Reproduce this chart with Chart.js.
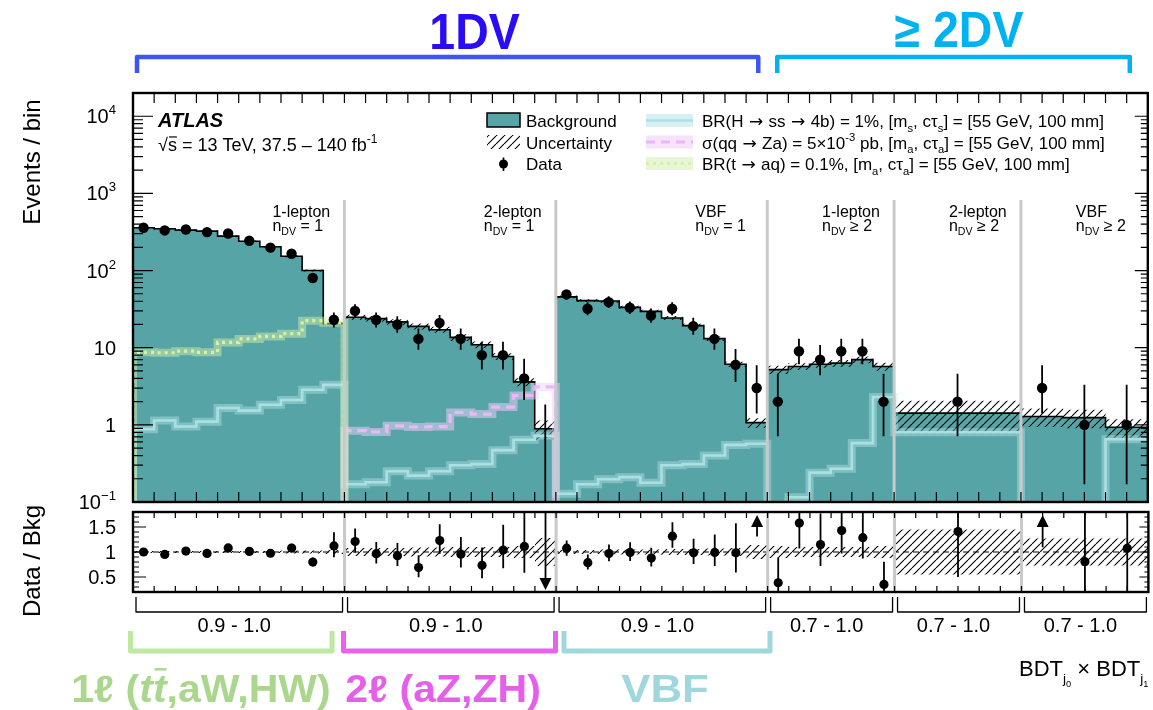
<!DOCTYPE html>
<html lang="en">
<head>
<meta charset="utf-8">
<title>Displaced-vertex search: event yields per BDT bin</title>
<script src="https://cdn.jsdelivr.net/npm/chart.js@4.4.1/dist/chart.umd.min.js"></script>
<style>
  html, body { margin: 0; padding: 0; background: #fff; }
  #wrap { position: relative; width: 1153px; height: 710px; overflow: hidden; background: #fff; }
  #wrap canvas { position: absolute; left: 0; top: 0; }
</style>
</head>
<body>
<div id="wrap">
  <canvas id="mainCanvas" width="1153" height="710"></canvas>
  <canvas id="ratioCanvas" width="1153" height="710"></canvas>
</div>
<script>
// ---------------------------------------------------------------------------
// Bin layout: 48 BDT-bin units, 40 bins spread over six analysis regions
// ---------------------------------------------------------------------------
const binEdges = [0, 1, 2, 3, 4, 5, 6, 7, 8, 9, 10, 11, 12, 13, 14, 15, 16, 17, 18, 19,
                  20, 21, 22, 23, 24, 25, 26, 27, 28, 29, 30, 31, 32, 33, 34, 35, 36, 42, 44, 46, 48];

const regionEdges    = [0, 10, 20, 30, 36, 42, 48];
const regionChannel  = ['1-lepton', '2-lepton', 'VBF', '1-lepton', '2-lepton', 'VBF'];
const regionNdv      = ['= 1', '= 1', '= 1', '≥ 2', '≥ 2', '≥ 2'];
const regionBdtRange = ['0.9 - 1.0', '0.9 - 1.0', '0.9 - 1.0', '0.7 - 1.0', '0.7 - 1.0', '0.7 - 1.0'];

// Expected background per bin and its relative uncertainty
const bkgYield = [359, 348, 334, 324, 279, 240, 203, 153, 100, 20.5,
                  24.8, 23.8, 21.6, 18.9, 17.1, 13.6, 10.9, 7.7, 3.6, 0.89,
                  45.5, 40.7, 40.3, 33.3, 29.6, 24.3, 19.3, 13.1, 6.1, 1.07,
                  5.2, 5.7, 6.1, 6.3, 7.0, 5.7,
                  1.42,
                  1.28, 1.24, 0.93];
const bkgRelUnc = [0.02, 0.02, 0.02, 0.02, 0.02, 0.02, 0.02, 0.03, 0.03, 0.04,
                   0.08, 0.08, 0.08, 0.09, 0.09, 0.10, 0.10, 0.10, 0.12, 0.28,
                   0.04, 0.04, 0.05, 0.05, 0.05, 0.06, 0.06, 0.07, 0.08, 0.14,
                   0.12, 0.10, 0.10, 0.10, 0.10, 0.12,
                   0.45,
                   0.27, 0.27, 0.27];

// Observed events and their 68% interval edges
const dataCounts = [359, 331, 340, 315, 302, 243, 198, 165, 80, 23,
                    30, 23, 20, 13, 21, 13, 8, 8, 4, 0,
                    49, 32, 39, 33, 26, 32, 19, 13, 6, 3,
                    2, 9, 7, 9, 9, 2,
                    2,
                    3, 1, 1];
const dataErrLow = [340, 313, 322, 297, 285, 227, 184, 152, 71, 18.3,
                    24.5, 18.3, 15.6, 9.4, 16.5, 9.4, 5.2, 5.2, 2.1, 0,
                    42.0, 26.4, 32.8, 27.3, 21.0, 26.4, 14.7, 9.4, 3.6, 1.4,
                    0.71, 6.1, 4.4, 6.1, 6.1, 0.71,
                    0.71,
                    1.4, 0.17, 0.17];
const dataErrHigh = [378, 349, 358, 333, 320, 259, 212, 178, 89, 28.6,
                     36.5, 28.6, 25.5, 17.7, 26.6, 17.7, 11.9, 11.9, 7.2, 1.84,
                     56.0, 38.7, 46.3, 39.8, 32.1, 38.7, 24.4, 17.7, 9.6, 5.9,
                     4.6, 13.1, 10.8, 13.1, 13.1, 4.6,
                     4.6,
                     5.9, 3.3, 3.3];

// Signal benchmarks
const sigHss = [0.88, 1.14, 0.95, 1.10, 1.65, 1.53, 1.82, 2.1, 2.85, 3.3,
                0.17, 0.18, 0.25, 0.22, 0.25, 0.30, 0.31, 0.47, 0.64, 0.72,
                0.128, 0.17, 0.197, 0.21, 0.178, 0.30, 0.31, 0.40, 0.55, 0.57,
                0.05, 0.115, 0.24, 0.27, 0.58, 2.3,
                0.80,
                0.05, 0.05, 0.65];
const sigZa = [0, 0, 0, 0, 0, 0, 0, 0, 0, 0,
               0.84, 0.81, 0.97, 0.94, 0.95, 1.45, 1.38, 1.70, 2.4, 3.1,
               0, 0, 0, 0, 0, 0, 0, 0, 0, 0,
               0, 0, 0, 0, 0, 0,
               0,
               0, 0, 0];
const sigTaq = [8.7, 8.6, 9.0, 8.7, 11.7, 13.0, 14.0, 15.2, 22.4, 21.0,
                0, 0, 0, 0, 0, 0, 0, 0, 0, 0,
                0, 0, 0, 0, 0, 0, 0, 0, 0, 0,
                0, 0, 0, 0, 0, 0,
                0,
                0, 0, 0];

// Axis ticks
const mainTickValues  = [0.1, 1, 10, 100, 1000, 10000];
const mainTickLabels  = [['10', '−1'], ['1', ''], ['10', ''], ['10', '2'], ['10', '3'], ['10', '4']];
const ratioTickValues = [0.5, 1, 1.5];
const ratioTickLabels = ['0.5', '1', '1.5'];

// ---------------------------------------------------------------------------
// Styling
// ---------------------------------------------------------------------------
const FONT = '"Liberation Sans", Arial, Helvetica, sans-serif';
const ARROW_FONT = '"DejaVu Sans", "Liberation Sans", sans-serif';
const C_BKG = '#57a4a6';
const C_HSS = '#abe0e3', C_HSS_BAND = 'rgba(190,234,238,0.40)', C_HSS_KEY = '#d8f0f2';
const C_ZA  = '#e9b8f7', C_ZA_BAND  = 'rgba(240,208,250,0.50)', C_ZA_KEY  = '#f6e2fb';
const C_TAQ = '#daf29a', C_TAQ_BAND = 'rgba(214,240,178,0.48)', C_TAQ_KEY = '#e7f6d8';
const BELOW_AXIS = 1e-3;

Chart.defaults.font.family = FONT;

const binCenters = binEdges.slice(0, -1).map((e, i) => (e + binEdges[i + 1]) / 2);

// Step-histogram points: one point per left bin edge plus the closing edge
function histPoints(values, leadingEdge) {
  const pts = values.map((v, i) => ({ x: binEdges[i], y: v > 0 ? v : BELOW_AXIS }));
  pts.push({ x: binEdges[binEdges.length - 1], y: pts[pts.length - 1].y });
  if (leadingEdge) pts.unshift({ x: binEdges[0], y: BELOW_AXIS });
  return pts;
}

function makeHatch(ctx) {
  const s = 8;
  const c = document.createElement('canvas');
  c.width = s; c.height = s;
  const g = c.getContext('2d');
  g.strokeStyle = '#000'; g.lineWidth = 1.1;
  g.beginPath();
  for (const o of [-s, 0, s]) { g.moveTo(o, s); g.lineTo(o + s, 0); }
  g.stroke();
  return ctx.createPattern(c, 'repeat');
}

// Text runs with sub/superscripts, italics, overbars and per-run fonts
const sub = t => ({ t, k: 0.66, dy: 0.28 });
const sup = t => ({ t, k: 0.66, dy: -0.42 });
const arrow = () => ({ t: ' → ', f: ARROW_FONT });
function rich(ctx, parts, x, y, size, opt = {}) {
  const style = opt.style || '';
  const sx = opt.sx || 1;
  const fontOf = p => `${p.it ? 'italic ' : ''}${style} ${size * (p.k || 1)}px ${p.f || FONT}`;
  let w = 0;
  const widths = parts.map(p => { ctx.font = fontOf(p); const pw = ctx.measureText(p.t).width; w += pw; return pw; });
  const start = opt.align === 'right' ? x - w * sx : opt.align === 'center' ? x - w * sx / 2 : x;
  ctx.save();
  ctx.translate(start, y);
  ctx.scale(sx, 1);
  ctx.fillStyle = opt.color || '#000';
  ctx.strokeStyle = opt.color || '#000';
  ctx.textAlign = 'left';
  ctx.textBaseline = 'alphabetic';
  let cx = 0;
  parts.forEach((p, i) => {
    ctx.font = fontOf(p);
    ctx.fillText(p.t, cx, (p.dy || 0) * size);
    if (p.bar) {
      ctx.lineWidth = Math.max(1, size * 0.065);
      ctx.beginPath();
      ctx.moveTo(cx + widths[i] * 0.12, -size * (p.barH || 0.8));
      ctx.lineTo(cx + widths[i] * 1.0, -size * (p.barH || 0.8));
      ctx.stroke();
    }
    cx += widths[i];
  });
  ctx.restore();
  return w * sx;
}

function bracket(ctx, x1, x2, yLine, yEnd, color, lw) {
  ctx.save();
  ctx.strokeStyle = color; ctx.lineWidth = lw; ctx.lineJoin = 'round'; ctx.lineCap = 'butt';
  ctx.beginPath();
  ctx.moveTo(x1, yEnd); ctx.lineTo(x1, yLine); ctx.lineTo(x2, yLine); ctx.lineTo(x2, yEnd);
  ctx.stroke();
  ctx.restore();
}

function separators(chart, yTop) {
  const { ctx, chartArea: a, scales: { x: xs } } = chart;
  ctx.save();
  ctx.strokeStyle = '#c9c9c9'; ctx.lineWidth = 3;
  ctx.beginPath();
  regionEdges.slice(1, -1).forEach(e => {
    const x = xs.getPixelForValue(e);
    ctx.moveTo(x, yTop); ctx.lineTo(x, a.bottom);
  });
  ctx.stroke();
  ctx.restore();
}

function rotatedTitle(ctx, text, cx, cy, size) {
  ctx.save();
  ctx.translate(cx, cy); ctx.rotate(-Math.PI / 2);
  ctx.font = `${size}px ${FONT}`; ctx.fillStyle = '#000';
  ctx.textAlign = 'center'; ctx.textBaseline = 'middle';
  ctx.fillText(text, 0, 0);
  ctx.restore();
}

function signalSets(values, color, band, dash, width, order) {
  return [
    { label: 'band', data: histPoints(values, true), stepped: true, fill: false, borderColor: band,
      borderWidth: 8, pointRadius: 0, order: order + 1, clip: 0 },
    { label: 'line', data: histPoints(values, true), stepped: true, fill: false, borderColor: color,
      borderWidth: width, borderDash: dash, pointRadius: 0, order, clip: 0 },
  ];
}

// ---------------------------------------------------------------------------
// Upper panel: events per bin
// ---------------------------------------------------------------------------
const mainCtx = document.getElementById('mainCanvas').getContext('2d');
const hatchMain = makeHatch(mainCtx);

const mainDeco = {
  id: 'mainDeco',
  beforeDatasetDraw(chart, args) {
    if (chart.data.datasets[args.index].label !== 'Data') return;
    const { ctx, chartArea: a, scales: { x: xs, y: ys } } = chart;
    separators(chart, a.top + 107);
    ctx.save();
    ctx.beginPath(); ctx.rect(a.left, a.top, a.width, a.height); ctx.clip();
    ctx.strokeStyle = '#000'; ctx.lineWidth = 1.8;
    ctx.beginPath();
    binCenters.forEach((c, i) => {
      const x = xs.getPixelForValue(c);
      ctx.moveTo(x, ys.getPixelForValue(Math.max(dataErrLow[i], ys.min)));
      ctx.lineTo(x, ys.getPixelForValue(dataErrHigh[i]));
    });
    ctx.stroke();
    ctx.restore();
  },
  afterDraw(chart) {
    const { ctx, chartArea: a, scales: { x: xs, y: ys } } = chart;
    ctx.save();
    // frame
    ctx.strokeStyle = '#000'; ctx.lineWidth = 2.4;
    ctx.strokeRect(a.left, a.top, a.width, a.height);
    // inward ticks
    ctx.lineWidth = 1.2;
    ctx.beginPath();
    for (let u = binEdges[0] + 1; u < binEdges[binEdges.length - 1]; u++) {
      const x = xs.getPixelForValue(u);
      ctx.moveTo(x, a.bottom); ctx.lineTo(x, a.bottom - 10);
      ctx.moveTo(x, a.top); ctx.lineTo(x, a.top + 10);
    }
    for (let e = -1; e <= 4; e++) {
      for (let m = 1; m <= 9; m++) {
        const v = m * Math.pow(10, e);
        if (v <= ys.min * 1.0001 || v > ys.max) continue;
        const y = ys.getPixelForValue(v);
        ctx.moveTo(a.left, y); ctx.lineTo(a.left + (m === 1 ? 20 : 10), y);
        ctx.moveTo(a.right, y); ctx.lineTo(a.right - (m === 1 ? 13 : 7), y);
      }
    }
    ctx.stroke();
    // tick labels
    mainTickValues.forEach((v, i) => {
      const [base, exp] = mainTickLabels[i];
      const parts = exp ? [{ t: base }, { t: exp, k: 0.66, dy: -0.45 }] : [{ t: base }];
      rich(ctx, parts, a.left - 17, ys.getPixelForValue(v) + 7, 20, { align: 'right' });
    });
    rotatedTitle(ctx, 'Events / bin', 33, 162, 24);

    // experiment label
    rich(ctx, [{ t: 'ATLAS' }], 158, 127, 20, { style: 'italic bold' });
    rich(ctx, [{ t: '√' }, { t: 's', bar: true, barH: 0.78 }, { t: ' = 13 TeV, 37.5 – 140 fb' }, sup('-1')], 158, 151, 18);

    // legend, left column
    const rows = [127, 148.5, 170];
    ctx.fillStyle = C_BKG; ctx.fillRect(487, 113, 33, 14);
    ctx.strokeStyle = '#000'; ctx.lineWidth = 1.5; ctx.strokeRect(487, 113, 33, 14);
    ctx.fillStyle = hatchMain; ctx.fillRect(487, 135, 33, 14);
    ctx.fillStyle = '#000';
    ctx.beginPath(); ctx.arc(503.5, 164, 4.5, 0, Math.PI * 2); ctx.fill();
    ctx.lineWidth = 1.6; ctx.beginPath(); ctx.moveTo(503.5, 157.5); ctx.lineTo(503.5, 171); ctx.stroke();
    ['Background', 'Uncertainty', 'Data'].forEach((t, i) => rich(ctx, [{ t }], 526, rows[i], 17));

    // legend, right column
    const keys = [
      { fill: C_HSS_KEY, color: C_HSS, dash: [], w: 2.6 },
      { fill: C_ZA_KEY, color: C_ZA, dash: [9, 6], w: 3 },
      { fill: C_TAQ_KEY, color: C_TAQ, dash: [3, 4], w: 3 },
    ];
    const texts = [
      [{ t: 'BR(H' }, arrow(), { t: 'ss' }, arrow(), { t: '4b) = 1%, [m' }, sub('s'), { t: ', cτ' }, sub('s'), { t: '] = [55 GeV, 100 mm]' }],
      [{ t: 'σ(qq' }, arrow(), { t: 'Za) = 5×10' }, sup('-3'), { t: ' pb, [m' }, sub('a'), { t: ', cτ' }, sub('a'), { t: '] = [55 GeV, 100 mm]' }],
      [{ t: 'BR(t' }, arrow(), { t: 'aq) = 0.1%, [m' }, sub('a'), { t: ', cτ' }, sub('a'), { t: '] = [55 GeV, 100 mm]' }],
    ];
    keys.forEach((k, i) => {
      const yc = rows[i] - 6.5;
      ctx.fillStyle = k.fill; ctx.fillRect(646, yc - 6.5, 47, 13);
      ctx.strokeStyle = k.color; ctx.lineWidth = k.w; ctx.setLineDash(k.dash);
      ctx.beginPath(); ctx.moveTo(646, yc); ctx.lineTo(693, yc); ctx.stroke();
      ctx.setLineDash([]);
      rich(ctx, texts[i], 702, rows[i], 17);
    });

    // region captions
    regionChannel.forEach((name, r) => {
      const xl = xs.getPixelForValue(regionEdges[r + 1]) - 72;
      rich(ctx, [{ t: name }], xl, a.top + 124, 16);
      rich(ctx, [{ t: 'n' }, sub('DV'), { t: ' ' + regionNdv[r] }], xl, a.top + 138, 16);
    });

    // vertex-multiplicity brackets above the frame
    bracket(ctx, xs.getPixelForValue(0) + 4, xs.getPixelForValue(30) - 9, 57, 73, '#3d55f2', 4.5);
    bracket(ctx, xs.getPixelForValue(30) + 10, xs.getPixelForValue(48) - 18, 57, 73, '#00b2f0', 4.5);
    rich(ctx, [{ t: '1DV' }], 474.5, 49, 50, { style: 'bold', align: 'center', sx: 0.93, color: '#2a0cf6' });
    rich(ctx, [{ t: '≥ 2DV' }], 959, 47, 50, { style: 'bold', align: 'center', sx: 0.93, color: '#00b2f0' });
    ctx.restore();
  },
};

new Chart(mainCtx, {
  type: 'line',
  data: {
    datasets: [
      { label: 'Background', data: histPoints(bkgYield), stepped: true, fill: 'start',
        backgroundColor: C_BKG, borderColor: '#000', borderWidth: 1.6, pointRadius: 0, order: 30, clip: 0 },
      { label: 'Uncertainty', data: histPoints(bkgYield.map((v, i) => v * (1 + bkgRelUnc[i]))), stepped: true,
        fill: '+1', backgroundColor: hatchMain, borderColor: 'rgba(0,0,0,0)', borderWidth: 1, pointRadius: 0, order: 29, clip: 0 },
      { label: 'UncertaintyLow', data: histPoints(bkgYield.map((v, i) => v * (1 - bkgRelUnc[i]))), stepped: true,
        fill: false, borderColor: 'rgba(0,0,0,0)', borderWidth: 1, pointRadius: 0, order: 29, clip: 0 },
      ...signalSets(sigHss, C_HSS, C_HSS_BAND, [], 2.6, 20),
      ...signalSets(sigZa, C_ZA, C_ZA_BAND, [9, 6], 3.2, 16),
      ...signalSets(sigTaq, C_TAQ, C_TAQ_BAND, [3, 4], 3.2, 12),
      { label: 'Data', data: binCenters.map((c, i) => ({ x: c, y: dataCounts[i] > 0 ? dataCounts[i] : null })),
        showLine: false, pointRadius: 5.2, pointBackgroundColor: '#000', pointBorderWidth: 0, order: 1 },
    ],
  },
  options: {
    responsive: false,
    animation: false,
    events: [],
    layout: { padding: { left: 0, right: 2, top: 93, bottom: 208 } },
    plugins: { legend: { display: false }, tooltip: { enabled: false } },
    scales: {
      x: { type: 'linear', min: 0, max: 48, display: false },
      y: {
        type: 'logarithmic', min: 0.1, max: 20000,
        ticks: { display: false }, grid: { display: false }, border: { display: false },
        afterFit(scale) { scale.width = 133; },
      },
    },
  },
  plugins: [mainDeco],
});

// ---------------------------------------------------------------------------
// Lower panel: data / background
// ---------------------------------------------------------------------------
const ratioCtx = document.getElementById('ratioCanvas').getContext('2d');
const hatchRatio = makeHatch(ratioCtx);

function arrowHead(ctx, x, yApex, dir) {
  ctx.beginPath();
  ctx.moveTo(x, yApex);
  ctx.lineTo(x - 6, yApex - dir * 12);
  ctx.lineTo(x + 6, yApex - dir * 12);
  ctx.closePath();
  ctx.fill();
}

const ratioDeco = {
  id: 'ratioDeco',
  beforeDatasetDraw(chart, args) {
    if (chart.data.datasets[args.index].label !== 'Ratio') return;
    const { ctx, chartArea: a, scales: { x: xs, y: ys } } = chart;
    separators(chart, a.top);
    ctx.save();
    ctx.beginPath(); ctx.rect(a.left, a.top, a.width, a.height); ctx.clip();
    ctx.strokeStyle = '#000'; ctx.fillStyle = '#000'; ctx.lineWidth = 1.8;
    const py = v => ys.getPixelForValue(Math.min(Math.max(v, ys.min), ys.max));
    binCenters.forEach((c, i) => {
      const x = xs.getPixelForValue(c);
      const b = bkgYield[i];
      const r = dataCounts[i] / b, lo = dataErrLow[i] / b, hi = dataErrHigh[i] / b;
      ctx.beginPath();
      if (dataCounts[i] === 0) {
        ctx.moveTo(x, py(hi)); ctx.lineTo(x, a.bottom - 10); ctx.stroke();
        arrowHead(ctx, x, a.bottom - 2, 1);
      } else if (r > ys.max) {
        ctx.moveTo(x, py(lo)); ctx.lineTo(x, a.top + 10); ctx.stroke();
        arrowHead(ctx, x, a.top + 3, -1);
      } else {
        ctx.moveTo(x, py(lo)); ctx.lineTo(x, py(hi)); ctx.stroke();
      }
    });
    ctx.restore();
  },
  afterDraw(chart) {
    const { ctx, chartArea: a, scales: { x: xs, y: ys } } = chart;
    ctx.save();
    ctx.strokeStyle = '#000'; ctx.lineWidth = 2.4;
    ctx.strokeRect(a.left, a.top, a.width, a.height);
    ctx.lineWidth = 1.2;
    ctx.beginPath();
    for (let u = binEdges[0] + 1; u < binEdges[binEdges.length - 1]; u++) {
      const x = xs.getPixelForValue(u);
      ctx.moveTo(x, a.bottom); ctx.lineTo(x, a.bottom - 6);
      ctx.moveTo(x, a.top); ctx.lineTo(x, a.top + 6);
    }
    for (let k = 3; k <= 17; k++) {
      const y = ys.getPixelForValue(k / 10);
      const major = k % 5 === 0;
      ctx.moveTo(a.left, y); ctx.lineTo(a.left + (major ? 13 : 6), y);
      ctx.moveTo(a.right, y); ctx.lineTo(a.right - (major ? 9 : 4), y);
    }
    ctx.stroke();
    ratioTickValues.forEach((v, i) => rich(ctx, [{ t: ratioTickLabels[i] }], a.left - 17, ys.getPixelForValue(v) + 7, 20, { align: 'right' }));
    rotatedTitle(ctx, 'Data / Bkg', 33, 561, 24);

    // BDT-range brackets under the panel
    regionEdges.slice(0, -1).forEach((e, r) => {
      const x1 = xs.getPixelForValue(e) + 3, x2 = xs.getPixelForValue(regionEdges[r + 1]) - 2;
      bracket(ctx, x1, x2, a.bottom + 20, a.bottom + 5, '#000', 1.3);
      rich(ctx, [{ t: regionBdtRange[r] }], (x1 + x2) / 2 - 5, a.bottom + 40, 20, { align: 'center' });
    });

    // production-channel brackets
    bracket(ctx, 130.5, 332, 651, 631, '#bdeaa0', 5);
    bracket(ctx, 343.5, 555.5, 651, 631, '#e862ec', 5);
    bracket(ctx, 564, 770, 651, 631, '#9fd7db', 5);
    rich(ctx, [{ t: '1ℓ (' }, { t: 't', it: true }, { t: 't', it: true, bar: true, barH: 0.86 }, { t: ',aW,HW)' }],
         201, 702, 38, { style: 'bold', align: 'center', sx: 1.08, color: '#aad78d' });
    rich(ctx, [{ t: '2ℓ (aZ,ZH)' }], 443, 702, 38, { style: 'bold', align: 'center', sx: 1.08, color: '#e65fea' });
    rich(ctx, [{ t: 'VBF' }], 665, 702, 38, { style: 'bold', align: 'center', sx: 1.15, color: '#a0d7dc' });

    // x-axis title
    rich(ctx, [{ t: 'BDT' }, { t: 'j', k: 0.62, dy: 0.3 }, { t: '0', k: 0.42, dy: 0.52 },
               { t: ' × BDT' }, { t: 'j', k: 0.62, dy: 0.3 }, { t: '1', k: 0.42, dy: 0.52 }],
         a.right, 676, 22, { align: 'right' });
    ctx.restore();
  },
};

new Chart(ratioCtx, {
  type: 'line',
  data: {
    datasets: [
      { label: 'RatioUnc', data: histPoints(bkgRelUnc.map(u => 1 + u)), stepped: true, fill: '+1',
        backgroundColor: hatchRatio, borderColor: 'rgba(0,0,0,0)', borderWidth: 1, pointRadius: 0, order: 10, clip: 0 },
      { label: 'RatioUncLow', data: histPoints(bkgRelUnc.map(u => 1 - u)), stepped: true, fill: false,
        borderColor: 'rgba(0,0,0,0)', borderWidth: 1, pointRadius: 0, order: 10, clip: 0 },
      { label: 'Unity', data: [{ x: binEdges[0], y: 1 }, { x: binEdges[binEdges.length - 1], y: 1 }],
        borderColor: '#000', borderWidth: 1.2, borderDash: [6, 4], pointRadius: 0, fill: false, order: 5 },
      { label: 'Ratio', data: binCenters.map((c, i) => {
          const r = dataCounts[i] / bkgYield[i];
          return { x: c, y: dataCounts[i] > 0 && r <= 1.8 ? r : null };
        }),
        showLine: false, pointRadius: 4.6, pointBackgroundColor: '#000', pointBorderWidth: 0, order: 1 },
    ],
  },
  options: {
    responsive: false,
    animation: false,
    events: [],
    layout: { padding: { left: 0, right: 2, top: 512, bottom: 118 } },
    plugins: { legend: { display: false }, tooltip: { enabled: false } },
    scales: {
      x: { type: 'linear', min: 0, max: 48, display: false },
      y: {
        type: 'linear', min: 0.2, max: 1.8,
        ticks: { display: false }, grid: { display: false }, border: { display: false },
        afterFit(scale) { scale.width = 133; },
      },
    },
  },
  plugins: [ratioDeco],
});
</script>
</body>
</html>
